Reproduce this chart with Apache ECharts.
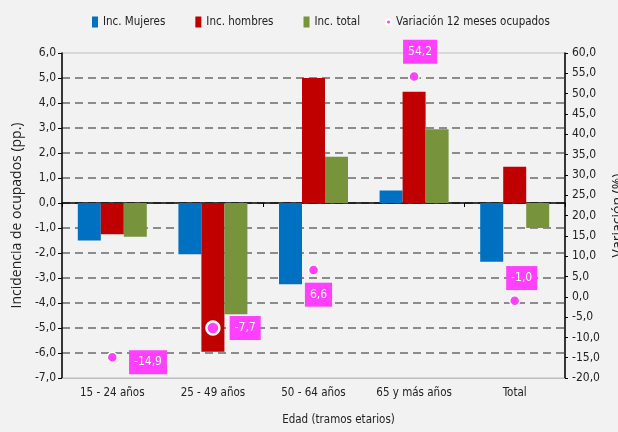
<!DOCTYPE html>
<html>
<head>
<meta charset="utf-8">
<script src="https://cdn.jsdelivr.net/npm/echarts@6/dist/echarts.min.js"></script>
<style>
  html, body { margin: 0; padding: 0; background: #f2f2f2; }
  #main { width: 618px; height: 432px; }
</style>
</head>
<body>
<div id="main"></div>
<script>
  // datos
  var categorias = ['15 - 24 años', '25 - 49 años', '50 - 64 años', '65 y más años', 'Total'];
  var incMujeres = [-1.5, -2.05, -3.25, 0.5, -2.35];
  var incHombres = [-1.25, -5.95, 5.0, 4.45, 1.45];
  var incTotal = [-1.35, -4.45, 1.85, 2.95, -1.0];
  var variacion = [-14.9, -7.7, 6.6, 54.2, -1.0];

  var fuente = "'Liberation Sans Narrow', 'DejaVu Sans Condensed', sans-serif";
  var coma = function (v) { return v.toFixed(1).replace('.', ','); };

  // posición de cada etiqueta de la variación
  var etiquetas = [
    { position: 'right', distance: 11, offset: [0, 5] },
    { position: 'right', distance: 9, offset: [0, 0] },
    { position: 'bottom', distance: 7, offset: [5, 0] },
    { position: 'top', distance: 7, offset: [6, 0] },
    { position: 'top', distance: 5, offset: [7, 0] }
  ];

  var puntos = variacion.map(function (v, i) {
    var d = { value: v, label: etiquetas[i] };
    if (i === 1) {
      d.symbolSize = 13;
      d.itemStyle = { borderWidth: 2.5 };
    }
    return d;
  });

  var gris = [];
  for (var i = 0; i < 14; i++) {
    gris.push(i === 0 || i === 13 ? 'rgba(0,0,0,0)' : '#8c8c8c');
  }

  var myChart = echarts.init(document.getElementById('main'));
  var option = {
    backgroundColor: '#f2f2f2',
    textStyle: { fontFamily: fuente },
    legend: [
      {
        left: 87, top: 11,
        itemWidth: 6, itemHeight: 11, itemGap: 30,
        icon: 'rect',
        textStyle: { fontFamily: fuente, fontSize: 11.5, color: '#222' },
        data: ['Inc. Mujeres', 'Inc. hombres', 'Inc. total']
      },
      {
        left: 380, top: 11,
        itemWidth: 5, itemHeight: 5,
        icon: 'circle',
        textStyle: { fontFamily: fuente, fontSize: 11.5, color: '#222' },
        data: ['Variación 12 meses ocupados']
      }
    ],
    grid: {
      left: 62, right: 53, top: 53, bottom: 54,
      outerBoundsMode: 'none',
      containLabel: false,
      show: true, borderColor: '#bfbfbf', borderWidth: 1,
      backgroundColor: 'transparent'
    },
    xAxis: [
      {
        type: 'category',
        data: categorias,
        position: 'bottom',
        axisLine: { onZero: false, lineStyle: { color: '#bfbfbf' } },
        axisTick: { show: false },
        axisLabel: { color: '#222', fontSize: 11.5, margin: 9, interval: 0, fontFamily: fuente },
        name: 'Edad (tramos etarios)',
        nameLocation: 'middle',
        nameGap: 36,
        nameTextStyle: { color: '#222', fontSize: 11.5, fontFamily: fuente, padding: [0, 0, 0, 50] }
      },
      {
        type: 'category',
        data: categorias,
        position: 'top',
        axisLine: { onZero: true, onZeroAxisIndex: 0, lineStyle: { color: '#000', width: 1.5 } },
        axisTick: { show: true, inside: true, length: 4, lineStyle: { color: '#000' } },
        axisLabel: { show: false }
      }
    ],
    yAxis: [
      {
        type: 'value',
        min: -7, max: 6, interval: 1,
        axisLine: { show: true, lineStyle: { color: '#000', width: 1.5 } },
        axisTick: { show: true, length: 4, lineStyle: { color: '#000' } },
        axisLabel: { color: '#222', fontSize: 12, margin: 6, formatter: coma, fontFamily: fuente },
        splitLine: { show: true, lineStyle: { color: gris, type: [8, 5], width: 2 } },
        name: 'Incidencia de ocupados (pp.)',
        nameLocation: 'middle',
        nameGap: 38,
        nameTextStyle: { color: '#222', fontSize: 14, fontFamily: "'Open Sans', sans-serif" }
      },
      {
        type: 'value',
        min: -20, max: 60, interval: 5,
        axisLine: { show: true, lineStyle: { color: '#000', width: 1.5 } },
        axisTick: { show: true, length: 3, lineStyle: { color: '#000' } },
        axisLabel: { color: '#222', fontSize: 12, margin: 7, formatter: coma, fontFamily: fuente },
        splitLine: { show: false },
        name: 'Variación (%)',
        nameLocation: 'middle',
        nameGap: 42,
        nameTextStyle: { color: '#222', fontSize: 14, fontFamily: "'Open Sans', sans-serif" }
      }
    ],
    series: [
      {
        name: 'Inc. Mujeres', type: 'bar', barWidth: 23, barGap: '0%',
        itemStyle: { color: '#0070c0' },
        data: incMujeres
      },
      {
        name: 'Inc. hombres', type: 'bar', barWidth: 23, barGap: '0%',
        itemStyle: { color: '#c00000' },
        data: incHombres
      },
      {
        name: 'Inc. total', type: 'bar', barWidth: 23, barGap: '0%',
        itemStyle: { color: '#77933c' },
        data: incTotal
      },
      {
        name: 'Variación 12 meses ocupados', type: 'scatter', yAxisIndex: 1,
        symbolSize: 10,
        itemStyle: { color: '#ff40ff', borderColor: '#fff', borderWidth: 1.5, opacity: 1 },
        label: {
          show: true,
          formatter: function (p) { return coma(p.value); },
          color: '#fff', fontSize: 12, fontFamily: fuente,
          backgroundColor: '#ff40ff', padding: [5, 5, 5, 5], lineHeight: 14
        },
        z: 5,
        data: puntos
      }
    ]
  };
  myChart.setOption(option);
</script>
</body>
</html>
